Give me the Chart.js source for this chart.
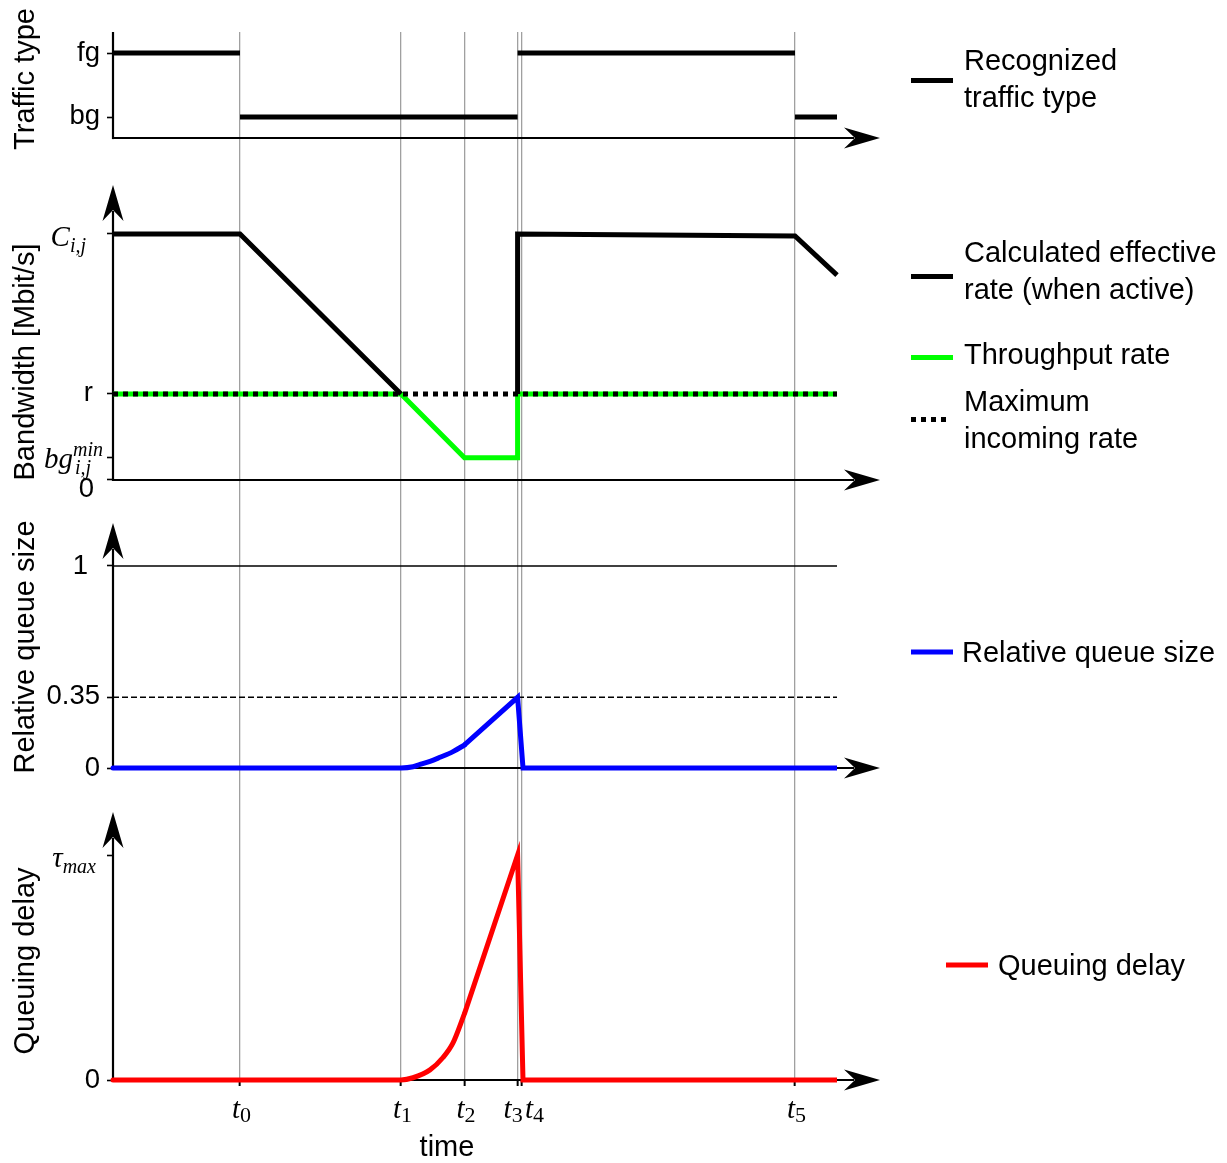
<!DOCTYPE html>
<html>
<head>
<meta charset="utf-8">
<script src="https://cdn.jsdelivr.net/npm/chart.js@4/dist/chart.umd.min.js"></script>
<style>
  html, body { margin: 0; padding: 0; background: #fff; }
  canvas { display: block; }
</style>
</head>
<body>
<canvas id="timeline" width="1227" height="1163"></canvas>
<script>
// ---- event instants on the shared time axis (t0 ... t5) ----
const eventTimes  = [1.27, 2.88, 3.515, 4.046, 4.089, 6.82];
const eventLabels = ['0', '1', '2', '3', '4', '5'];
const timeAxisMax = 7.67;

// ---- recognized traffic type: 1 = fg, 0 = bg (null breaks the step) ----
const trafficTime  = [0, 1.27, 1.27, 1.27, 4.046, 4.046, 4.046, 6.82, 6.82, 6.82, 7.24];
const trafficLevel = [1, 1, null, 0, 0, null, 1, 1, null, 0, 0];
const trafficTicks = [0, 1];
const trafficTickLabels = ['bg', 'fg'];

// ---- bandwidth (C = 100, r = 35, bg_min = 9) ----
const effRateTime  = [0, 1.27, 2.88, 3.515, 4.046, 4.046, 6.82, 7.24];
const effRateValue = [100, 100, 35, null, 35, 100, 99.2, 83.3];
const throughputTime  = [0, 2.88, 3.515, 4.046, 4.046, 7.24];
const throughputValue = [35, 35, 9, 9, 35, 35];
const maxIncomingTime  = [0, 7.24];
const maxIncomingValue = [35, 35];
const bwTicks = [0, 9, 35, 100];
const bwTickLabels = ['0', { base: 'bg', sup: 'min', sub: 'i,j' }, 'r', { base: 'C', sub: 'i,j' }];

// ---- relative queue size: smooth build-up until t2, then straight ramp, drop and idle ----
const queueRiseTime  = [0, 2.88, 3.0, 3.07, 3.17, 3.27, 3.40, 3.515];
const queueRiseValue = [0, 0, 0.006, 0.018, 0.033, 0.053, 0.081, 0.114];
const queueTailTime  = [3.515, 4.046, 4.10, 7.24];
const queueTailValue = [0.114, 0.35, 0, 0];
const queueLimitTime  = [0, 7.24];
const queueLimitValue = [1, 1];
const queueMarkTime  = [0, 7.24];
const queueMarkValue = [0.35, 0.35];
const queueTicks = [0, 0.35, 1];
const queueTickLabels = ['0', '0.35', '1'];

// ---- queuing delay (tau_max = 1) ----
const delayRiseTime  = [0, 2.88, 3.0, 3.17, 3.30, 3.40, 3.515];
const delayRiseValue = [0, 0, 0.01, 0.045, 0.10, 0.165, 0.295];
const delayTailTime  = [3.515, 4.046, 4.10, 7.24];
const delayTailValue = [0.295, 1, 0, 0];
const delayTicks = [0, 1];
const delayTickLabels = ['0', { base: 'τ', sub: 'max' }];

// ---- texts ----
const panelTitles = ['Traffic type', 'Bandwidth [Mbit/s]', 'Relative queue size', 'Queuing delay'];
const timeTitle = 'time';
const legendTexts = [
  ['Recognized', 'traffic type'],
  ['Calculated effective', 'rate (when active)'],
  ['Throughput rate'],
  ['Maximum', 'incoming rate'],
  ['Relative queue size'],
  ['Queuing delay']
];

// ---- styling / layout ----
const SANS  = '"Liberation Sans", Arial, Helvetica, sans-serif';
const SERIF = '"Liberation Serif", "Times New Roman", serif';
const BLACK = '#000000', GREEN = '#00ff00', BLUE = '#0000ff', RED = '#ff0000';
const GRID_GREY = '#a0a0a0';
const THICK = 5;
const AXIS_W = 2.2;
const TEXT_FONT = `29px ${SANS}`;

// stacked panels: pixel height of each band and its value range
const panels = [
  { axis: 'yTraffic', weight: 4, band: 128, min: -0.671875, max: 1.328125, base: -0.328125, top: 1.328125, arrow: false,
    ticks: trafficTicks, labels: trafficTickLabels, titleY: 79,
    place: [{ x: 100, dy: -1 }, { x: 100, dy: 0 }] },
  { axis: 'yBw', weight: 3, band: 340, min: -8.1301, max: 130.081, base: 0, top: 119.9, arrow: true,
    ticks: bwTicks, labels: bwTickLabels, titleY: 362,
    place: [{ x: 94, dy: 9 }, { x: 103, dy: 10 }, { x: 93, dy: 0 }, { x: 86, dy: 12 }] },
  { axis: 'yQueue', weight: 2, band: 290, min: -0.1089, max: 1.3267, base: 0, top: 1.213, arrow: true,
    ticks: queueTicks, labels: queueTickLabels, titleY: 647,
    place: [{ x: 100, dy: 0 }, { x: 100, dy: -1 }, { x: 88, dy: 0 }] },
  { axis: 'yDelay', weight: 1, band: 290, min: 0, max: 1.28889, base: 0, top: 1.1911, arrow: true,
    ticks: delayTicks, labels: delayTickLabels, titleY: 961,
    place: [{ x: 100, dy: 0 }, { x: 96, dy: 12 }] }
];
const eventLabelShift = [0, 0, 0, -6, 11, 0];

const pts = (xs, ys) => xs.map((x, i) => ({ x, y: ys[i] }));
function series(xs, ys, yAxisID, color, width, dash, smooth) {
  return {
    data: pts(xs, ys), xAxisID: 'x', yAxisID,
    borderColor: color, backgroundColor: color, borderWidth: width, borderDash: dash || [],
    pointRadius: 0, pointHoverRadius: 0, fill: false, spanGaps: false, clip: false,
    tension: smooth ? 0.4 : 0,
    cubicInterpolationMode: smooth ? 'monotone' : 'default',
    borderCapStyle: smooth ? 'round' : 'butt'
  };
}

// first dataset is painted last (on top)
const datasets = [
  series(maxIncomingTime, maxIncomingValue, 'yBw', BLACK, THICK, [5, 5]),
  series(effRateTime, effRateValue, 'yBw', BLACK, THICK),
  series(throughputTime, throughputValue, 'yBw', GREEN, THICK),
  series(trafficTime, trafficLevel, 'yTraffic', BLACK, THICK),
  series(queueRiseTime, queueRiseValue, 'yQueue', BLUE, THICK, null, true),
  series(queueTailTime, queueTailValue, 'yQueue', BLUE, THICK),
  series(queueLimitTime, queueLimitValue, 'yQueue', BLACK, 1.6),
  series(queueMarkTime, queueMarkValue, 'yQueue', BLACK, 1.6, [6, 3]),
  series(delayRiseTime, delayRiseValue, 'yDelay', RED, THICK, null, true),
  series(delayTailTime, delayTailValue, 'yDelay', RED, THICK)
];

function yScale(p) {
  return {
    type: 'linear', position: 'left', stack: 'panels', stackWeight: p.band, weight: p.weight,
    min: p.min, max: p.max,
    afterBuildTicks: s => { s.ticks = p.ticks.map(v => ({ value: v })); },
    afterFit: s => { s.width = 113; },
    ticks: { display: true, autoSkip: false, callback: () => '' },
    grid: { display: true, drawOnChartArea: false, drawTicks: true, tickLength: 6, tickColor: BLACK, tickWidth: 1.6 },
    border: { display: false }
  };
}

const scales = {
  x: {
    type: 'linear', position: 'bottom', min: 0, max: timeAxisMax,
    afterBuildTicks: s => { s.ticks = eventTimes.map(v => ({ value: v })); },
    afterFit: s => { s.height = 40; },
    ticks: { display: true, autoSkip: false, maxRotation: 0, callback: () => '' },
    grid: { display: true, drawOnChartArea: true, color: GRID_GREY, lineWidth: 1.3,
            drawTicks: true, tickLength: 6, tickColor: BLACK, tickWidth: 2 },
    border: { display: false }
  }
};
panels.forEach(p => { scales[p.axis] = yScale(p); });

function arrowHead(ctx, x, y, dir) {
  const L = 36, W = 10.5, N = 11;
  ctx.save();
  ctx.translate(x, y);
  if (dir === 'up') ctx.rotate(-Math.PI / 2);
  ctx.beginPath();
  ctx.moveTo(0, 0);
  ctx.lineTo(-L, -W);
  ctx.lineTo(-L + N, 0);
  ctx.lineTo(-L, W);
  ctx.closePath();
  ctx.fillStyle = BLACK;
  ctx.fill();
  ctx.restore();
}

function drawMath(ctx, m, xRight, yBase) {
  const mainFont = `italic 29px ${SERIF}`;
  const scriptFont = `italic 20px ${SERIF}`;
  ctx.font = mainFont;
  const wBase = ctx.measureText(m.base).width;
  ctx.font = scriptFont;
  const wSub = m.sub ? ctx.measureText(m.sub).width + (m.sup ? 2 : 0) : 0;
  const wSup = m.sup ? ctx.measureText(m.sup).width : 0;
  let x = xRight - (wBase + Math.max(wSub, wSup));
  ctx.textAlign = 'left';
  ctx.textBaseline = 'alphabetic';
  ctx.font = mainFont;
  ctx.fillText(m.base, x, yBase);
  x += wBase;
  ctx.font = scriptFont;
  if (m.sup) ctx.fillText(m.sup, x, yBase - 12);
  if (m.sub) ctx.fillText(m.sub, x + (m.sup ? 2 : 0), yBase + 6);
}

const panelDecor = {
  id: 'panelDecor',
  beforeDatasetsDraw(chart) {
    const ctx = chart.ctx;
    const xs = chart.scales.x;
    const x0 = xs.getPixelForValue(0);
    const xEnd = xs.getPixelForValue(timeAxisMax);
    ctx.save();
    ctx.strokeStyle = BLACK;
    ctx.lineWidth = AXIS_W;
    ctx.lineCap = 'butt';
    panels.forEach(p => {
      const ys = chart.scales[p.axis];
      const yb = ys.getPixelForValue(p.base);
      const yt = ys.getPixelForValue(p.top);
      // vertical axis
      ctx.beginPath();
      ctx.moveTo(x0, yb + AXIS_W / 2);
      ctx.lineTo(x0, p.arrow ? yt + 26 : yt);
      ctx.stroke();
      if (p.arrow) arrowHead(ctx, x0, yt, 'up');
      // time axis of the panel
      ctx.beginPath();
      ctx.moveTo(x0, yb);
      ctx.lineTo(xEnd - 26, yb);
      ctx.stroke();
      arrowHead(ctx, xEnd, yb, 'right');
    });
    ctx.restore();
  },
  afterDraw(chart) {
    const ctx = chart.ctx;
    const xs = chart.scales.x;
    ctx.save();
    ctx.fillStyle = BLACK;

    // tick labels of every panel
    panels.forEach(p => {
      const ys = chart.scales[p.axis];
      p.ticks.forEach((v, i) => {
        const lab = p.labels[i];
        const pl = p.place[i];
        const y = ys.getPixelForValue(v) + pl.dy;
        if (typeof lab === 'string') {
          ctx.font = `27.5px ${SANS}`;
          ctx.textAlign = 'right';
          ctx.textBaseline = 'middle';
          ctx.fillText(lab, pl.x, y);
        } else {
          drawMath(ctx, lab, pl.x, y);
        }
      });
    });

    // panel titles (rotated)
    panels.forEach((p, i) => {
      ctx.save();
      ctx.translate(34, p.titleY);
      ctx.rotate(-Math.PI / 2);
      ctx.font = TEXT_FONT;
      ctx.textAlign = 'center';
      ctx.textBaseline = 'alphabetic';
      ctx.fillText(panelTitles[i], 0, 0);
      ctx.restore();
    });

    // event labels t0 ... t5
    const yLab = chart.chartArea.bottom + 38;
    eventTimes.forEach((t, i) => {
      const px = xs.getPixelForValue(t) - 8 + eventLabelShift[i];
      ctx.textAlign = 'left';
      ctx.textBaseline = 'alphabetic';
      ctx.font = `italic 29px ${SERIF}`;
      ctx.fillText('t', px, yLab);
      const w = ctx.measureText('t').width;
      ctx.font = `22px ${SERIF}`;
      ctx.fillText(eventLabels[i], px + w, yLab + 4);
    });

    // time axis title
    ctx.font = TEXT_FONT;
    ctx.textAlign = 'center';
    ctx.textBaseline = 'alphabetic';
    ctx.fillText(timeTitle, 447, chart.chartArea.bottom + 76);

    // legend
    const legend = [
      { color: BLACK, sampleY: 80.5, textY: [70, 107], x0: 911, x1: 953, tx: 964 },
      { color: BLACK, sampleY: 276.5, textY: [262, 299], x0: 911, x1: 953, tx: 964 },
      { color: GREEN, sampleY: 357.5, textY: [364], x0: 911, x1: 953, tx: 964 },
      { color: BLACK, sampleY: 419.5, textY: [411, 448], x0: 911, x1: 949, tx: 964, dash: [5, 5] },
      { color: BLUE, sampleY: 652, textY: [661.5], x0: 911, x1: 953, tx: 962 },
      { color: RED, sampleY: 965, textY: [974.5], x0: 946, x1: 988, tx: 998 }
    ];
    legend.forEach((it, i) => {
      ctx.save();
      ctx.strokeStyle = it.color;
      ctx.lineWidth = THICK;
      ctx.setLineDash(it.dash || []);
      ctx.beginPath();
      ctx.moveTo(it.x0, it.sampleY);
      ctx.lineTo(it.x1, it.sampleY);
      ctx.stroke();
      ctx.restore();
      ctx.font = TEXT_FONT;
      ctx.textAlign = 'left';
      ctx.textBaseline = 'alphabetic';
      legendTexts[i].forEach((line, j) => ctx.fillText(line, it.tx, it.textY[j]));
    });
    ctx.restore();
  }
};

Chart.defaults.font.family = SANS;

new Chart(document.getElementById('timeline'), {
  type: 'line',
  data: { datasets },
  options: {
    responsive: false,
    animation: false,
    devicePixelRatio: 1,
    events: [],
    layout: { padding: { top: 32, right: 347, bottom: 43, left: 0 } },
    plugins: { legend: { display: false }, tooltip: { enabled: false }, title: { display: false } },
    scales
  },
  plugins: [panelDecor]
});
</script>
</body>
</html>
